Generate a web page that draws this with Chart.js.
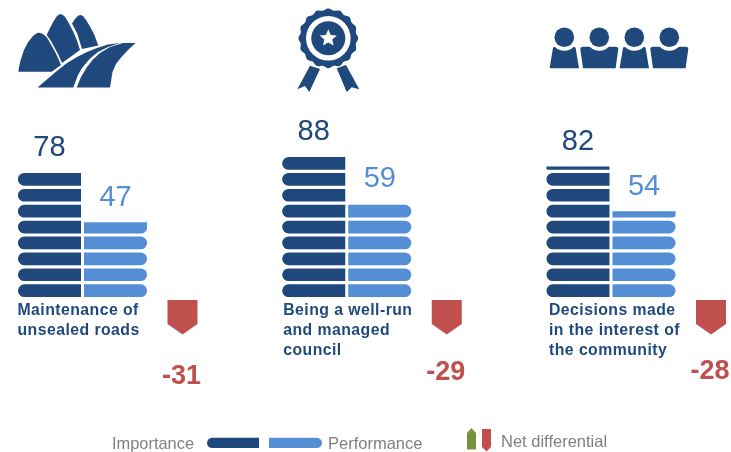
<!DOCTYPE html>
<html>
<head>
<meta charset="utf-8">
<title>Importance and performance</title>
<script src="https://cdn.jsdelivr.net/npm/chart.js@4"></script>
<style>
body { margin: 0; background: #fff; }
canvas { display: block; }
</style>
</head>
<body>
<canvas id="myChart" width="731" height="452"></canvas>
<script>
const categories = [
    ['Maintenance of', 'unsealed roads'],
    ['Being a well-run', 'and managed', 'council'],
    ['Decisions made', 'in the interest of', 'the community']
]
const importance = [78, 88, 82]
const performance_ = [47, 59, 54]
const netDifferential = [-31, -29, -28]

const NAVY = '#1F497D'
const BLUE = '#558ED5'
const RED = '#C0504D'
const GREEN = '#77933C'
const GREY = '#7F7F7F'
const FONT = '"Liberation Sans", Arial, sans-serif'

// each pill is 10 units tall including the gap, cut off at the value
const rowRange = (value, row) => {
    const start = row * 10
    if (value <= start) return null
    return [start, Math.min(value, start + 8)]
}

const pillRadius = (side) => (context) => {
    const range = context.raw
    const r = 6.5
    if (!range) return 0
    const cut = range[1] - range[0] < 8 ? 0 : r
    if (side === 'left') return {topLeft: cut, bottomLeft: r, topRight: 0, bottomRight: 0}
    return {topLeft: 0, bottomLeft: 0, topRight: cut, bottomRight: r}
}

const pillDatasets = (values, name, color, side) => {
    const rows = []
    for (let row = 0; row < 10; row++) {
        rows.push({
            label: name + ' ' + row,
            stack: name,
            data: values.map((v) => rowRange(v, row)),
            backgroundColor: color,
            borderSkipped: false,
            borderRadius: pillRadius(side),
            clip: false
        })
    }
    return rows
}

const text = (ctx, str, x, y, font, color, align, spacing) => {
    ctx.font = font
    ctx.fillStyle = color
    ctx.textAlign = align || 'left'
    ctx.textBaseline = 'middle'
    ctx.letterSpacing = spacing || '0px'
    ctx.fillText(str, x, y)
    ctx.letterSpacing = '0px'
}

const polygon = (ctx, points) => {
    ctx.beginPath()
    points.forEach((p) => ctx.lineTo(p[0], p[1]))
    ctx.closePath()
    ctx.fill()
}

const drawRoadIcon = (ctx) => {
    ctx.fillStyle = NAVY
    polygon(ctx, [[18.3, 71.7], [19, 67], [20.7, 60], [24, 50], [28.3, 41.7], [33, 36], [37, 33], [39.5, 32.7], [43, 34], [46.7, 37.3], [51, 44.5], [55, 51.7], [58, 58], [61, 65], [51.7, 71.7]])
    polygon(ctx, [[46.7, 35], [50, 28], [53.3, 21.7], [57, 16], [60, 14], [62.5, 14.7], [65, 16.7], [69, 23.5], [73.3, 31.7], [77, 40.5], [80, 50], [62, 63], [58.5, 55], [55, 48.5], [51, 41]])
    polygon(ctx, [[72, 23.5], [75, 19], [78, 15.7], [80.5, 15], [83, 16], [86, 20], [90, 26.5], [94, 34], [98.3, 45.5], [82, 49], [79.5, 41], [77, 33]])
    polygon(ctx, [[37.5, 87.5], [48, 78.5], [58, 70], [67, 63], [77, 57], [87, 52], [97, 48], [108, 44.5], [120, 43], [108, 47], [98, 52], [90, 58.5], [82, 68], [78, 75], [73.3, 87.5]])
    polygon(ctx, [[76.7, 87.5], [81, 77], [87, 67], [93, 59.5], [100, 53], [110, 47], [123, 43], [135.5, 43], [128, 50], [121, 57.5], [116, 64], [112.5, 72], [110, 87.5]])
}

const drawMedalIcon = (ctx) => {
    const cx = 328.3, cy = 38.3
    ctx.fillStyle = NAVY
    ctx.beginPath()
    for (let i = 0; i <= 360; i += 2) {
        const a = i * Math.PI / 180
        const r = 29 + 0.9 * Math.cos(16 * a)
        ctx.lineTo(cx + r * Math.sin(a), cy - r * Math.cos(a))
    }
    ctx.fill()
    ctx.fillStyle = '#fff'
    ctx.beginPath()
    ctx.arc(cx, cy, 22.3, 0, Math.PI * 2)
    ctx.fill()
    ctx.fillStyle = NAVY
    ctx.beginPath()
    ctx.arc(cx, cy, 17, 0, Math.PI * 2)
    ctx.fill()
    ctx.fillStyle = '#fff'
    ctx.beginPath()
    for (let i = 0; i < 10; i++) {
        const a = i * Math.PI / 5
        const r = i % 2 ? 4.2 : 9
        ctx.lineTo(cx + r * Math.sin(a), cy - r * Math.cos(a))
    }
    ctx.fill()
    ctx.fillStyle = NAVY
    ctx.fill(new Path2D('M310 65.7 L320 69 L309.3 92 L305 86 L297.3 89.3 Z'))
    ctx.fill(new Path2D('M336.7 68.3 L346 65 L359.3 89.3 L351.7 87.3 L346.7 92 Z'))
}

const drawPeopleIcon = (ctx) => {
    const heads = [564.3, 599.3, 634.3, 669.3]
    heads.forEach((x, i) => {
        const half = i % 2 ? 19 : 11.5
        const foot = i % 2 ? 16.3 : 14.7
        ctx.fillStyle = NAVY
        ctx.beginPath()
        ctx.moveTo(x - foot, 68.3)
        ctx.lineTo(x - half, 49)
        ctx.quadraticCurveTo(x - half, 46.7, x - half + 3, 46.7)
        ctx.lineTo(x + half - 3, 46.7)
        ctx.quadraticCurveTo(x + half, 46.7, x + half, 49)
        ctx.lineTo(x + foot, 68.3)
        ctx.closePath()
        ctx.fill()
        ctx.fillStyle = '#fff'
        ctx.beginPath()
        ctx.arc(x, 37.3, 13.5, 0, Math.PI * 2)
        ctx.fill()
        ctx.fillStyle = NAVY
        ctx.beginPath()
        ctx.arc(x, 37.3, 9.8, 0, Math.PI * 2)
        ctx.fill()
    })
}

const drawBadge = (ctx, x, color) => {
    ctx.fillStyle = color
    ctx.beginPath()
    ctx.moveTo(x - 15, 300)
    ctx.lineTo(x + 15, 300)
    ctx.lineTo(x + 15, 324)
    ctx.lineTo(x, 334.5)
    ctx.lineTo(x - 15, 324)
    ctx.closePath()
    ctx.fill()
}

const drawLegend = (ctx) => {
    text(ctx, 'Importance', 112, 444.5, '16.4px ' + FONT, GREY)
    ctx.fillStyle = NAVY
    ctx.beginPath()
    ctx.roundRect(207, 437.7, 52, 10.4, [5.2, 0, 0, 5.2])
    ctx.fill()
    ctx.fillStyle = BLUE
    ctx.beginPath()
    ctx.roundRect(269, 437.7, 53, 10.4, [0, 5.2, 5.2, 0])
    ctx.fill()
    text(ctx, 'Performance', 328, 444.5, '16.5px ' + FONT, GREY)

    ctx.fillStyle = GREEN
    ctx.beginPath()
    ctx.moveTo(467, 449.5)
    ctx.lineTo(467, 433)
    ctx.lineTo(471.5, 428)
    ctx.lineTo(476, 433)
    ctx.lineTo(476, 449.5)
    ctx.closePath()
    ctx.fill()
    ctx.fillStyle = RED
    ctx.beginPath()
    ctx.moveTo(482, 429)
    ctx.lineTo(491, 429)
    ctx.lineTo(491, 447)
    ctx.lineTo(486.5, 451.5)
    ctx.lineTo(482, 447)
    ctx.closePath()
    ctx.fill()
    text(ctx, 'Net differential', 501, 442.5, '16.5px ' + FONT, GREY)
}

const overlay = {
    id: 'overlay',
    afterDatasetsDraw(chart) {
        const ctx = chart.ctx
        const y = chart.scales.y
        const impBars = chart.getDatasetMeta(0).data
        const perfBars = chart.getDatasetMeta(10).data
        const netY = [377, 373, 372]
        ctx.save()
        drawRoadIcon(ctx)
        drawMedalIcon(ctx)
        drawPeopleIcon(ctx)
        categories.forEach((lines, i) => {
            const cx = chart.scales.x.getPixelForValue(i)
            text(ctx, importance[i], impBars[i].x, y.getPixelForValue(importance[i]) - 25, '29px ' + FONT, NAVY, 'center')
            text(ctx, performance_[i], perfBars[i].x, y.getPixelForValue(performance_[i]) - 24.5, '29px ' + FONT, BLUE, 'center')
            lines.forEach((line, l) => {
                text(ctx, line, cx - 65 + 1.5 * i, 310.5 + l * 20, 'bold 15.8px ' + FONT, NAVY, 'left', '0.45px')
            })
            drawBadge(ctx, cx + 100, RED)
            text(ctx, netDifferential[i], cx + 99, netY[i], 'bold 27px ' + FONT, RED, 'center')
        })
        drawLegend(ctx)
        ctx.restore()
    }
}

const config = {
    type: 'bar',
    data: {
        labels: categories,
        datasets: [
            ...pillDatasets(importance, 'Importance', NAVY, 'left'),
            ...pillDatasets(performance_, 'Performance', BLUE, 'right')
        ]
    },
    options: {
        responsive: false,
        animation: false,
        categoryPercentage: 0.5,
        barPercentage: 63 / 66,
        layout: {
            padding: {left: 82.5, right: 120, top: 138, bottom: 155}
        },
        scales: {
            x: {display: false, offset: false},
            y: {display: false, stacked: false, min: 0, max: 100}
        },
        plugins: {
            legend: {display: false},
            tooltip: {enabled: false}
        }
    },
    plugins: [overlay]
}

const chart = new Chart(document.getElementById('myChart'), config)
</script>
</body>
</html>
